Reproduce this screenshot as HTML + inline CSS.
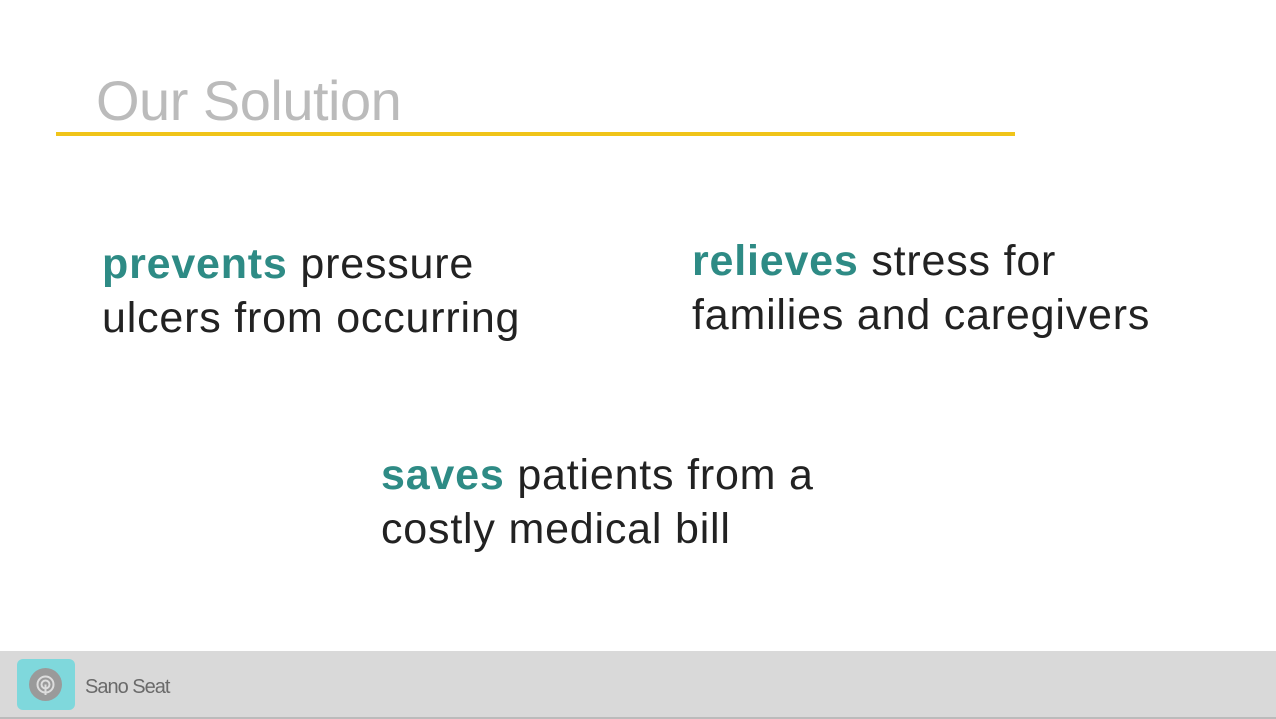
<!DOCTYPE html>
<html><head><meta charset="utf-8"><style>
body{margin:0;width:1276px;height:719px;background:#fff;position:relative;overflow:hidden;font-family:"Liberation Sans",sans-serif;}
.t{position:absolute;white-space:nowrap;}
.p{font-size:43px;color:#222;line-height:54px;letter-spacing:0.8px}
.p b{color:#2e8b85;}
</style></head><body>
<div class="t" style="left:96px;top:68px;font-size:56px;color:#bbb;font-weight:300;letter-spacing:-0.5px">Our Solution</div>
<div style="position:absolute;left:56px;top:132px;width:959px;height:4px;background:#f0c419"></div>
<div class="t p" style="left:102px;top:237px"><b>prevents</b> pressure<br>ulcers from occurring</div>
<div class="t p" style="left:692px;top:234px"><b>relieves</b> stress for<br>families and caregivers</div>
<div class="t p" style="left:381px;top:448px"><b>saves</b> patients from a<br>costly medical bill</div>
<div style="position:absolute;left:0;top:651px;width:1276px;height:66px;background:#d9d9d9;border-bottom:2px solid #bbb"></div>
<div style="position:absolute;left:17px;top:659px;width:58px;height:51px;background:#7fd8dc;border-radius:6px">
<div style="position:absolute;left:12px;top:9px;width:33px;height:33px;border-radius:50%;background:#9a9a9a"></div>
<svg style="position:absolute;left:12px;top:9px" width="33" height="33"><g fill="none" stroke="#ddd" stroke-width="2"><circle cx="16.5" cy="16.5" r="8"/><circle cx="16.5" cy="16.5" r="4"/><line x1="16.5" y1="16.5" x2="16.5" y2="27"/></g></svg>
</div>
<div class="t" style="left:85px;top:676px;font-size:20px;color:#6a6a6a;letter-spacing:-1px">Sano Seat</div>
</body></html>
